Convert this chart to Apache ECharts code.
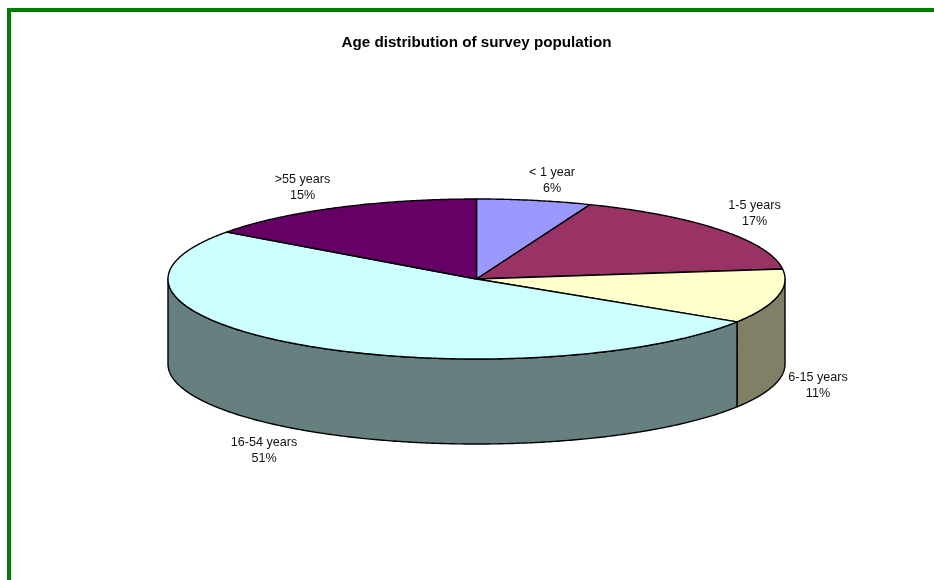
<!DOCTYPE html>
<html>
<head>
<meta charset="utf-8">
<style>html,body{margin:0;padding:0;background:#fff}#c{width:934px;height:580px}</style>
<script src="https://cdn.jsdelivr.net/npm/echarts@6/dist/echarts.min.js"></script>
</head>
<body>
<div id="c"></div>
<script>
const titleText = 'Age distribution of survey population';
const categories = ['< 1 year', '1-5 years', '6-15 years', '16-54 years', '>55 years'];
const percents = [6, 17, 11, 51, 15];

const topColors = ['#9999FF', '#993366', '#FFFFCC', '#CCFFFF', '#660066'];
const sideColors = ['#4C4C80', '#4C1933', '#808066', '#668080', '#330033'];
const labelCenters = [[552, 181], [754.5, 214], [818, 386], [264, 451], [302.5, 188]];
const pie = { cx: 476.5, cy: 279, rx: 308.5, ry: 80, depth: 85 };
const font = '"Liberation Sans", Arial, sans-serif';

const total = percents.reduce((a, b) => a + b, 0);
let running = 0;
const sliceData = percents.map((p, i) => {
  const from = running; running += p;
  return [i, from / total * 360, running / total * 360];
});

function pt(deg, dy) {
  const a = deg * Math.PI / 180;
  return [pie.cx + pie.rx * Math.sin(a), pie.cy - pie.ry * Math.cos(a) + (dy || 0)];
}
function arc(a0, a1, dy) {
  const out = [], n = Math.max(2, Math.ceil(Math.abs(a1 - a0) * 2));
  for (let k = 0; k <= n; k++) out.push(pt(a0 + (a1 - a0) * k / n, dy));
  return out;
}

function renderItem(params, api) {
  const i = api.value(0), a0 = api.value(1), a1 = api.value(2);
  const children = [];
  // front wall: only the part of the slice facing the viewer (90deg to 270deg)
  const s0 = Math.max(a0, 90), s1 = Math.min(a1, 270);
  if (s1 > s0) {
    const pts = arc(s0, s1, 0).concat(arc(s1, s0, pie.depth));
    children.push({
      type: 'polygon', z2: 1,
      shape: { points: pts },
      style: { fill: sideColors[i], stroke: '#000', lineWidth: 1.4, lineJoin: 'round' }
    });
  }
  children.push({
    type: 'polygon', z2: 2,
    shape: { points: [[pie.cx, pie.cy]].concat(arc(a0, a1, 0)) },
    style: { fill: topColors[i], stroke: '#000', lineWidth: 1.4, lineJoin: 'round' }
  });
  children.push({
    type: 'text', z2: 3,
    style: {
      x: labelCenters[i][0], y: labelCenters[i][1],
      text: categories[i] + '\n' + percents[i] + '%',
      align: 'center', verticalAlign: 'middle',
      font: '12.6px ' + font, lineHeight: 16, fill: '#111'
    }
  });
  return { type: 'group', children };
}

const chart = echarts.init(document.getElementById('c'), null, { renderer: 'canvas' });
chart.setOption({
  animation: false,
  backgroundColor: '#fff',
  title: {
    text: titleText, left: 476.5, top: 35, textAlign: 'center', padding: 0,
    textStyle: { fontFamily: font, fontSize: 15.2, fontWeight: 'bold', color: '#000' }
  },
  graphic: [
    { type: 'rect', shape: { x: 7, y: 8, width: 927, height: 4 }, style: { fill: '#008000' }, silent: true },
    { type: 'rect', shape: { x: 7, y: 8, width: 4, height: 572 }, style: { fill: '#008000' }, silent: true }
  ],
  series: [{
    type: 'custom',
    coordinateSystem: 'none',
    renderItem,
    data: sliceData,
    silent: true
  }]
});
</script>
</body>
</html>
